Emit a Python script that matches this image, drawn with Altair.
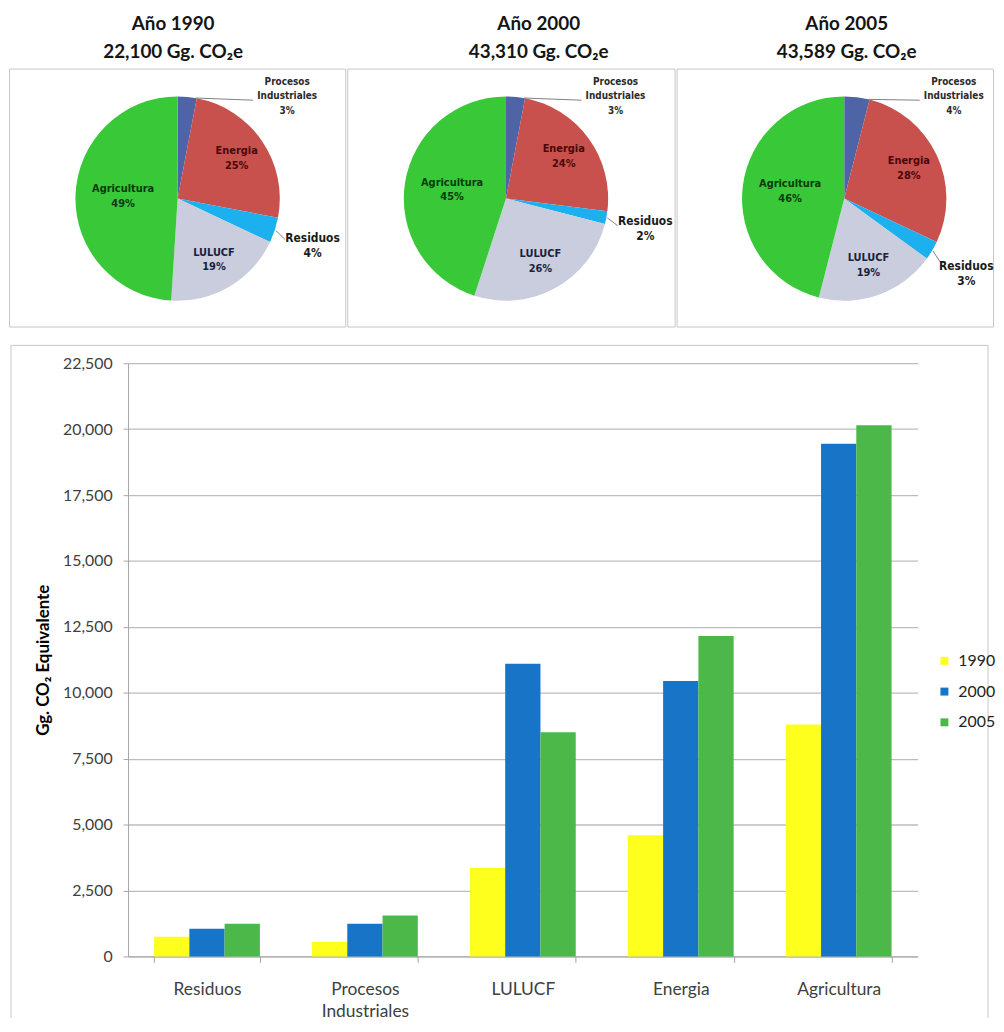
import altair as alt
import pandas as pd
import numpy as np

# ---------------- data ----------------
pie_years = ["1990", "2000", "2005"]
pie_totals = ["22,100", "43,310", "43,589"]
pie_sectors = ["Procesos Industriales", "Energia", "Residuos", "LULUCF", "Agricultura"]
pie_pct_1990 = [3, 25, 4, 19, 49]
pie_pct_2000 = [3, 24, 2, 26, 45]
pie_pct_2005 = [4, 28, 3, 19, 46]

bar_sectors = ["Residuos", "Procesos Industriales", "LULUCF", "Energia", "Agricultura"]
bar_years = ["1990", "2000", "2005"]
bar_1990 = [750, 560, 3350, 4600, 8800]
bar_2000 = [1050, 1240, 11100, 10450, 19450]
bar_2005 = [1240, 1550, 8500, 12150, 20150]
y_ticks = [0, 2500, 5000, 7500, 10000, 12500, 15000, 17500, 20000, 22500]

# ---------------- styles / layout ----------------
PIE_COLORS = ["#4E64A6", "#C8504D", "#1CB0EE", "#C9CDDD", "#38C838"]
LABEL_COLORS = ["#2B2B2B", "#4A0808", "#1A1A1A", "#18223F", "#0A3A0A"]
BAR_COLORS = ["#FFFF1E", "#1874C6", "#4DB84A"]
PANEL_W = [339, 330, 319]
PANEL_H = 260
PIE_CX = [170, 160, 169]
PIE_CY = 131
R = 103
TITLE_DX = [-4, 28, 12]
LABEL_R = {"Energia": 72, "Residuos": 143, "LULUCF": 72, "Agricultura": 55}
LABEL_DY = {"Residuos": 3}
LABEL_FS = {"Procesos Industriales": 10, "Energia": 11, "Residuos": 12, "LULUCF": 11, "Agricultura": 11}
LINE_H = 15
PROC_LABEL = (47, 151)
PROC_LEADER_END = (37.5, 125)

PLOT_X0, PLOT_X1 = 120, 916
BAR_W_TOTAL = 988
PLOT_H = 598

FONT = "Lato"
NARROW = "'Liberation Sans Narrow', 'DejaVu Sans Condensed', 'Liberation Sans', sans-serif"


def pie_panel(i, pcts):
    cx, cy = PIE_CX[i], PIE_CY
    df = pd.DataFrame({"sector": pie_sectors, "pct": pcts, "ord": list(range(len(pcts)))})
    tot = df["pct"].sum()
    cum = df["pct"].cumsum()
    df["a0"] = (cum - df["pct"]) / tot * 2 * np.pi
    df["a1"] = cum / tot * 2 * np.pi
    df["am"] = (df["a0"] + df["a1"]) / 2
    df["label"] = [s.replace(" ", "\n") + "\n" + str(p) + "%" for s, p in zip(df["sector"], df["pct"])]
    nlines = np.array([lab.count("\n") + 1 for lab in df["label"]])
    df["tcol"] = LABEL_COLORS
    ang, rad = [], []
    for s, am in zip(df["sector"], df["am"]):
        if s == "Procesos Industriales":
            ang.append(np.radians(PROC_LABEL[0]))
            rad.append(PROC_LABEL[1])
        else:
            ang.append(am)
            rad.append(LABEL_R[s])
    dy = df["sector"].map(lambda s: LABEL_DY.get(s, 0)).to_numpy()
    df["lx"] = cx + np.array(rad) * np.sin(ang)
    # first line is anchored at y: shift up so the text block is centred
    df["ly"] = cy - np.array(rad) * np.cos(ang) - (nlines - 1) * LINE_H / 2 + dy
    df["fs"] = df["sector"].map(LABEL_FS)

    p = df[df["sector"] == "Procesos Industriales"].iloc[0]
    r_ = df[df["sector"] == "Residuos"].iloc[0]
    lead = pd.DataFrame({
        "x": [cx + R * np.sin(p["a1"] - 0.01), cx + (R + 1) * np.sin(r_["am"])],
        "y": [cy - R * np.cos(p["a1"] - 0.01), cy - (R + 1) * np.cos(r_["am"])],
        "x2": [cx + PROC_LEADER_END[1] * np.sin(np.radians(PROC_LEADER_END[0])), cx + (R + 13) * np.sin(r_["am"] + 0.05)],
        "y2": [cy - PROC_LEADER_END[1] * np.cos(np.radians(PROC_LEADER_END[0])), cy - (R + 13) * np.cos(r_["am"] + 0.05)],
    })

    base = alt.Chart(df)
    arc = base.mark_arc(radius=R, x=cx, y=cy).encode(
        theta=alt.Theta("pct:Q"),
        color=alt.Color("sector:N", scale=alt.Scale(domain=pie_sectors, range=PIE_COLORS), legend=None),
        order=alt.Order("ord:Q"),
    )
    txt = base.mark_text(lineBreak="\n", lineHeight=LINE_H, align="center", baseline="middle",
                         fontWeight="bold", font=NARROW).encode(
        x=alt.X("lx:Q", scale=None),
        y=alt.Y("ly:Q", scale=None),
        text="label:N",
        color=alt.Color("tcol:N", scale=None),
        size=alt.Size("fs:Q", scale=None),
    )
    rule = alt.Chart(lead).mark_rule(color="#7F7F7F", strokeWidth=1).encode(
        x=alt.X("x:Q", scale=None), y=alt.Y("y:Q", scale=None),
        x2="x2:Q", y2="y2:Q",
    )
    return alt.layer(arc, rule, txt).properties(
        width=PANEL_W[i], height=PANEL_H,
        view=alt.ViewBackground(stroke="#C6C6C6", strokeWidth=1),
        title=alt.TitleParams(
            text=["Año " + pie_years[i], pie_totals[i] + " Gg. CO₂e"],
            font=FONT, fontSize=19, fontWeight="bold", lineHeight=28, color="#151515",
            anchor="middle", dx=TITLE_DX[i], offset=7,
        ),
    )


pies = alt.hconcat(
    pie_panel(0, pie_pct_1990),
    pie_panel(1, pie_pct_2000),
    pie_panel(2, pie_pct_2005),
    spacing=0,
)

# ---------------- bar chart ----------------
bar_df = pd.DataFrame({
    "sector": bar_sectors * 3,
    "year": [y for y in bar_years for _ in bar_sectors],
    "value": bar_1990 + bar_2000 + bar_2005,
})

bars = alt.Chart(bar_df).mark_bar().encode(
    x=alt.X("sector:N", sort=bar_sectors,
            scale=alt.Scale(range=[PLOT_X0, PLOT_X1], paddingInner=0.33, paddingOuter=0.165),
            axis=alt.Axis(title=None, labelAngle=0, tickBand="extent", tickSize=6,
                          tickColor="#A6A6A6", domainColor="#A6A6A6", labelFont=FONT,
                          labelFontSize=17.5, labelColor="#404040", labelPadding=18,
                          labelLineHeight=23,
                          labelExpr="datum.label == 'Procesos Industriales' ? ['Procesos', 'Industriales'] : datum.label")),
    xOffset=alt.XOffset("year:N", sort=bar_years, scale=alt.Scale(paddingInner=0, paddingOuter=0)),
    y=alt.Y("value:Q", scale=alt.Scale(domain=[0, 22500], nice=False),
            axis=alt.Axis(values=y_ticks, format=",d", title="Gg. CO₂ Equivalente", offset=-PLOT_X0,
                          titleFont=FONT, titleFontSize=17, titleFontWeight="bold", titleColor="#000000",
                          titleX=-85, titleY=PLOT_H / 2, titleAngle=270, titleAlign="center",
                          titleBaseline="middle",
                          labelFont=FONT, labelFontSize=16, labelColor="#404040",
                          labelPadding=11, tickSize=5, tickColor="#A6A6A6", domainColor="#A6A6A6",
                          gridColor="#BDBDBD", gridWidth=1.3)),
    color=alt.Color("year:N", scale=alt.Scale(domain=bar_years, range=BAR_COLORS),
                    legend=alt.Legend(title=None, orient="none", legendX=PLOT_X0 + 815, legendY=292,
                                      padding=0, symbolType="square", symbolSize=64, symbolStrokeWidth=0,
                                      labelFont=FONT, labelFontSize=16, labelColor="#222222",
                                      labelOffset=6, rowPadding=15)),
)

one = pd.DataFrame({"k": [0]})
FR = "#C6C6C6"
frame_left = alt.Chart(one).mark_rule(color=FR, strokeWidth=1).encode(
    x=alt.value(2), y=alt.value(-18), y2=alt.value(PLOT_H + 62))
frame_top = alt.Chart(one).mark_rule(color=FR, strokeWidth=1).encode(
    x=alt.value(2), x2=alt.value(BAR_W_TOTAL - 1), y=alt.value(-18))
frame_right = alt.Chart(one).mark_rule(color=FR, strokeWidth=1).encode(
    x=alt.value(BAR_W_TOTAL - 1), y=alt.value(-18), y2=alt.value(PLOT_H + 62))

bar_chart = alt.layer(frame_left, frame_top, frame_right, bars).properties(width=PLOT_X1, height=PLOT_H)

chart = alt.concat(pies, bar_chart, columns=1, spacing=17).resolve_scale(
    color="independent"
).properties(
    padding={"top": 2, "left": 0, "right": 0, "bottom": -2}, background="white"
).configure_view(strokeWidth=0)

chart.save("out.html", embed_options={"renderer": "svg", "actions": False})
